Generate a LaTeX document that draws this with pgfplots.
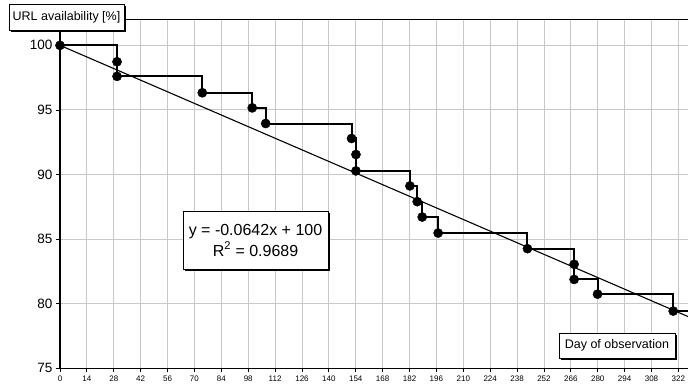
\documentclass[border=0pt]{standalone}
\usepackage{fontspec}
\setmainfont{Liberation Sans}
\usepackage{pgfplots}
\pgfplotsset{compat=1.18}
\usetikzlibrary{shadows}
\begin{document}
\begin{tikzpicture}
\tikzset{lbl/.style={draw=black, fill=white, line width=0.8pt, align=center,
  drop shadow={shadow xshift=1.8pt, shadow yshift=-1.8pt, opacity=1, fill=black}}}
\begin{axis}[name=ax, scale only axis, width=628pt, height=349.3pt,
 xmin=0, xmax=327, ymin=75, ymax=102.04,
 axis x line=bottom, axis y line=left,
 axis line style={-, line width=1.1pt, black},
 xtick={0,14,...,322}, ytick={75,80,...,100},
 tick align=outside, major tick length=4pt, tick style={black, line width=0.8pt},
 grid=major, major grid style={color=black!22, line width=0.9pt},
 /pgf/number format/assume math mode=true,
 xticklabel style={font=\fontsize{8}{9}\selectfont},
 yticklabel style={font=\fontsize{13.5}{15}\selectfont},
 clip mode=individual]
% trend line y = -0.0642x + 100
\addplot[black, line width=1.1pt] coordinates {(0,100) (340,78.172)};
% step line
\addplot[const plot, black, line width=2pt] coordinates {
(0,100) (29.7,98.73) (29.7,97.6) (74.1,96.33) (100.1,95.16) (107.1,93.95)
(151.8,92.79) (154.1,91.55) (154.1,90.28) (182.2,89.12) (186,87.9)
(188.6,86.71) (196.9,85.47) (243.4,84.26) (267.7,83.05) (267.7,81.88)
(279.9,80.74) (319.3,79.43) (340,79.43)};
% markers
\addplot[only marks, mark=*, mark size=4.6pt, black] coordinates {
(0,100) (29.7,98.73) (29.7,97.6) (74.1,96.33) (100.1,95.16) (107.1,93.95)
(151.8,92.79) (154.1,91.55) (154.1,90.28) (182.2,89.12) (186,87.9)
(188.6,86.71) (196.9,85.47) (243.4,84.26) (267.7,83.05) (267.7,81.88)
(279.9,80.74) (319.3,79.43)};
\node[lbl, minimum width=145pt, minimum height=58pt, font=\fontsize{16}{21}\selectfont]
  at (axis cs:101.8,84.93) {y = -0.0642x + 100\\R\textsuperscript{2} = 0.9689};
\node[lbl, minimum width=116pt, minimum height=25pt, font=\fontsize{12.5}{14}\selectfont]
  at (axis cs:290,76.76) {Day of observation};
\end{axis}
\draw[line width=0.7pt] (ax.north west) -- (ax.north east);
\node[lbl, minimum width=115pt, minimum height=26pt, font=\fontsize{12.5}{14}\selectfont]
  at ([xshift=6.5pt,yshift=1.5pt]ax.north west) {URL availability [\%]};
\pgfresetboundingbox
\path ([xshift=-60pt,yshift=-17.7pt]ax.south west) rectangle ([yshift=19pt]ax.north east);
\end{tikzpicture}
\end{document}
